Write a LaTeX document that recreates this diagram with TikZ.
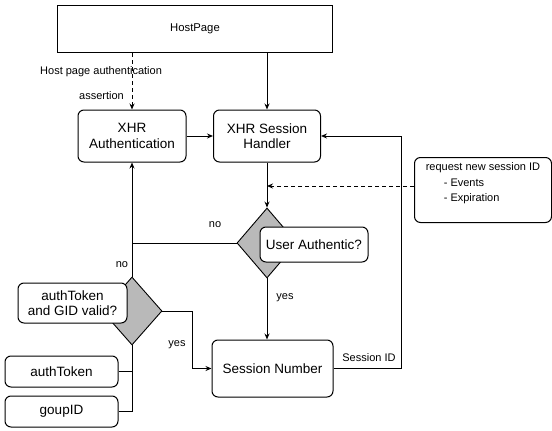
\documentclass[tikz,border=0pt]{standalone}
\usepackage{fontspec}
\setmainfont{Liberation Sans}
\usetikzlibrary{shapes.geometric,arrows.meta}
\tikzset{
  rbox/.style={draw, rounded corners=6pt, fill=white, line width=1pt, align=center, inner sep=1pt, font=\fontsize{13.5}{15.5}\selectfont},
  dia/.style={draw, shape=diamond, fill=gray!55, line width=0.9pt, inner sep=0pt},
  arr/.style={-{Stealth[length=6pt,width=5pt]}},
  conn/.style={line width=1pt},
  lbl/.style={font=\fontsize{11}{13}\selectfont, inner sep=1pt},
}
\begin{document}
\begin{tikzpicture}[x=1pt,y=-1pt]
\useasboundingbox (0,0) rectangle (552,431);
% boxes
\node[draw, line width=1.1pt, minimum width=275pt, minimum height=47pt, inner sep=0pt, font=\fontsize{11.3}{13}\selectfont] (host) at (195,29) {HostPage};
\node[rbox, minimum width=108pt, minimum height=52pt] (auth) at (132,136) {XHR\\Authentication};
\node[rbox, minimum width=107pt, minimum height=52pt] (handler) at (267,136) {XHR Session\\Handler};
\node[rbox, minimum width=137pt, minimum height=65pt, font=\fontsize{11}{15.5}\selectfont, align=left, anchor=north west, inner sep=2pt] (req) at (414,157) {request new session ID\\\hspace{18pt}- Events\\\hspace{18pt}- Expiration\\\mbox{}};
\node[dia, minimum width=60pt, minimum height=70pt] (ua) at (267,243) {};
\node[rbox, minimum width=108pt, minimum height=35pt] (ualbl) at (314,244.5) {User Authentic?};
\node[rbox, minimum width=121pt, minimum height=57pt] (sn) at (272.5,368.5) {Session Number};
\node[dia, minimum width=60pt, minimum height=68pt] (ld) at (132,311) {};
\node[rbox, minimum width=109pt, minimum height=40pt] (agv) at (72.5,303) {authToken\\and GID valid?};
\node[rbox, minimum width=113pt, minimum height=31pt] (at) at (61.5,371.5) {authToken};
\node[rbox, minimum width=113pt, minimum height=31pt] (gid) at (61.5,411.5) {goupID};
% connectors
\draw[conn,arr] (handler.north |- host.south) -- (handler.north);
\draw[conn,arr,dashed,dash pattern=on 4pt off 3pt] (auth.north |- host.south) -- (auth.north);
\node[lbl, anchor=west] (l1) at (39,72) {Host page authentication};
\node[lbl, anchor=east] (l2) at (125,96) {assertion};
\draw[conn,arr] (auth) -- (handler);
\draw[conn,arr] (handler.south) -- (ua.north);
\draw[conn,arr,dashed,dash pattern=on 4pt off 3pt] ([yshift=4pt]req.west) -- ([yshift=4pt]req.west -| handler.south);
\draw[conn,arr] (ua.south) -- (ua.south |- sn.north);
\draw[conn,arr] (sn.east) -- ++(68,0) |- (handler.east);
\node[lbl] (sid) at (369,358) {Session ID};
\draw[conn] (ua.west) -- (ua.west -| ld.north);
\draw[conn,arr] (ld.north) -- (auth.south);
\node[lbl] (no1) at (215,225) {no};
\node[lbl] (no2) at (122,265) {no};
\draw[conn,arr] (ld.east) -- ++(30,0) |- (sn.west);
\node[lbl] (yes1) at (177,345) {yes};
\node[lbl] (yes2) at (285,298) {yes};
\draw[conn] (ld.south) |- (gid.east);
\draw[conn] (at.east) -- (at.east -| ld.south);
\end{tikzpicture}
\end{document}
